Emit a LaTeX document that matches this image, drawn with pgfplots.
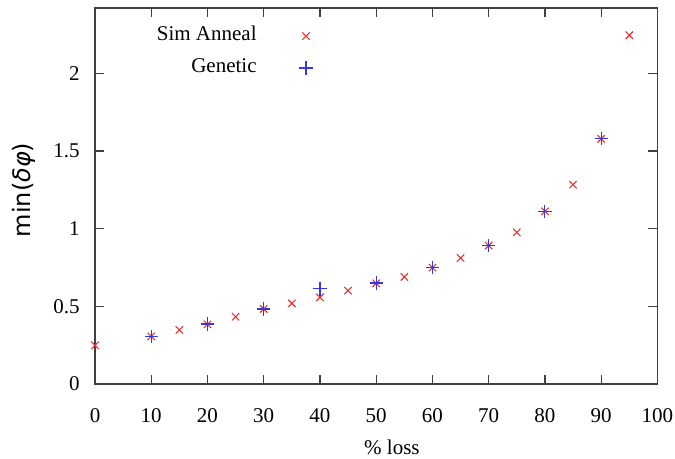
\documentclass[border=0pt]{standalone}
\usepackage{fontspec}
\setmainfont{Liberation Serif}
\newfontfamily\labelfont{DejaVu Sans}
\usepackage{pgfplots}
\pgfplotsset{compat=1.18}

\definecolor{annealred}{RGB}{228,50,50}
\definecolor{geneticblue}{RGB}{55,55,225}

\pgfplotstableread{
x    y
0    0.249
10   0.306
15   0.348
20   0.384
25   0.433
30   0.483
35   0.519
40   0.558
45   0.601
50   0.648
55   0.689
60   0.749
65   0.811
70   0.891
75   0.976
80   1.111
85   1.283
90   1.578
95   2.245
}\simanneal

\pgfplotstableread{
x    y
10   0.306
20   0.386
30   0.483
40   0.612
50   0.650
60   0.751
70   0.891
80   1.111
90   1.578
}\genetic

\begin{document}
\fontsize{10.5bp}{12.6bp}\selectfont
\begin{tikzpicture}
\path[use as bounding box] (-47.5bp,-37.5bp) rectangle (290bp,192bp);
\begin{axis}[
  at={(0,0)}, anchor=south west,
  scale only axis,
  width=281.2bp, height=188bp,
  xmin=0, xmax=100, ymin=0, ymax=2.42,
  xtick={0,10,...,100},
  ytick={0,0.5,1,1.5,2},
  yticklabels={0,0.5,1,1.5,2},
  tick align=inside,
  major tick length=4.5bp,
  minor tick num=0,
  axis line style={black!75, line width=0.7bp},
  every tick/.style={black!75, line width=0.6bp},
  /pgf/number format/assume math mode=true,
  xticklabel style={inner sep=0pt, yshift=-12bp, font=\fontsize{10.5bp}{12.6bp}\selectfont},
  yticklabel style={inner sep=0pt, xshift=-7.5bp, font=\fontsize{10.5bp}{12.6bp}\selectfont},
  xlabel={\% loss},
  xlabel style={at={(axis description cs:0.528,0)}, anchor=center, yshift=-31.5bp,
    inner sep=0pt, font=\fontsize{10.5bp}{12.6bp}\selectfont},
  ylabel={\labelfont min(\textit{δφ})},
  ylabel style={at={(axis description cs:-0.126,0.516)}, anchor=center,
    inner sep=0pt, font=\fontsize{12bp}{14bp}\selectfont},
  legend plot pos=right,
  legend cell align=right,
  legend style={
    at={(axis description cs:0.110,0.956)}, anchor=north west,
    draw=none, fill=none, inner sep=0pt, outer sep=0pt,
    row sep=5.5bp, column sep=0pt,
    font=\fontsize{10.5bp}{12.6bp}\selectfont,
    nodes={inner sep=0pt, text height=8bp, text depth=2.5bp},
  },
  legend image code/.code={%
    \path (0bp,0bp) (30bp,0bp);
    \draw[#1, mark repeat=1] plot coordinates {(24.5bp,-0.5bp)};
  },
]
\addplot[only marks, mark=x, mark size=2.6bp, annealred, mark options={line width=0.55bp}]
  table[x=x, y=y] {\simanneal};
\addlegendentry{Sim Anneal}
\addplot[only marks, mark=+, mark size=3.3bp, geneticblue, mark options={line width=0.55bp}]
  table[x=x, y=y] {\genetic};
\addlegendentry{Genetic}
\end{axis}
\end{tikzpicture}
\end{document}
